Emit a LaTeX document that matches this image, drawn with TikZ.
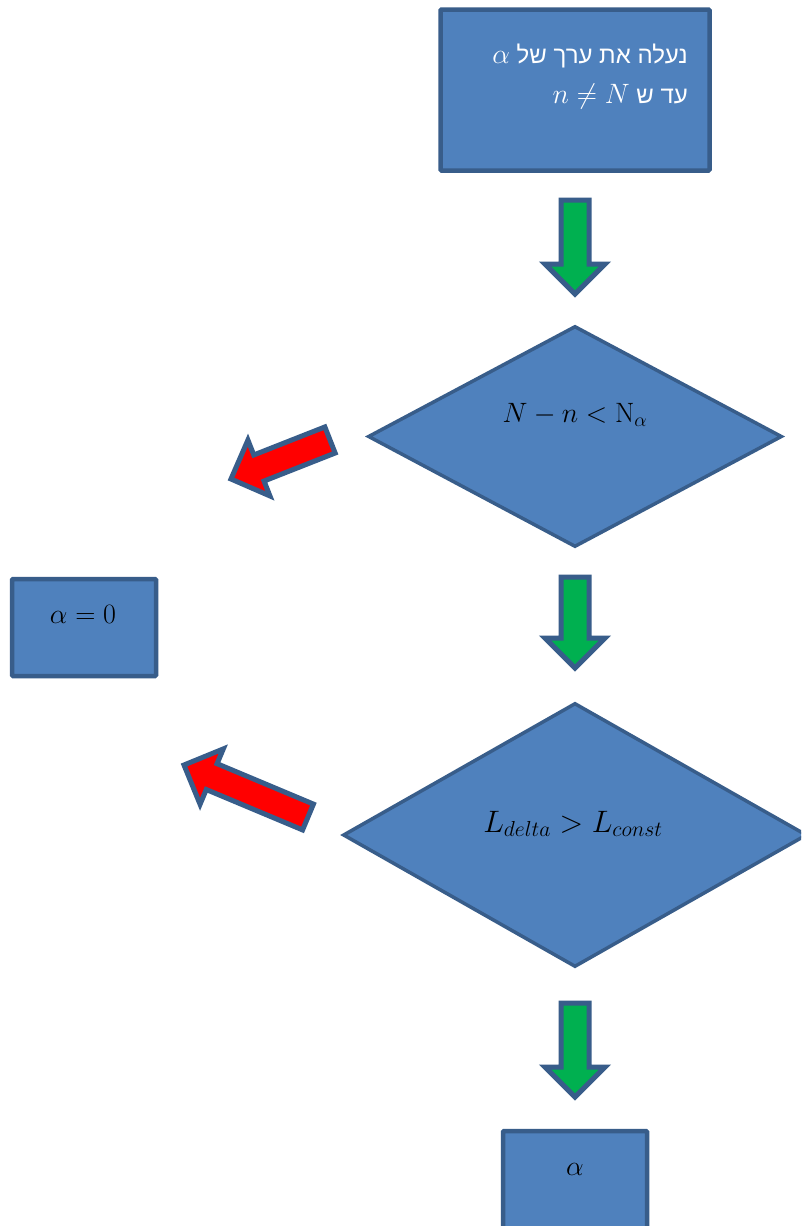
\RequirePackage{fix-cm}
\documentclass[tikz,border=0pt]{standalone}
\usepackage{fontspec}
\newfontfamily\hebfont[Script=Hebrew]{Liberation Sans}
\TeXXeTstate=1
\usetikzlibrary{calc,shapes.geometric}
\definecolor{boxfill}{HTML}{4F81BD}
\definecolor{boxline}{HTML}{385D8A}
\definecolor{okgreen}{HTML}{00B050}
\definecolor{nored}{HTML}{FF0000}
\newcommand\bigmath[1]{{\fontsize{28}{34}\selectfont$#1$}}
\tikzset{
  flowbox/.style={draw=boxline, fill=boxfill, line width=4.5pt, rounded corners=1pt, inner sep=0pt},
  flowdiamond/.style={diamond, draw=boxline, fill=boxfill, line width=3.5pt, inner sep=0pt},
  arrowline/.style={draw=boxline, line width=5pt, line join=miter},
  mathlabel/.style={font=\fontsize{28}{34}\selectfont, text=black, inner sep=0pt, anchor=base},
  heblabel/.style={font=\hebfont\fontsize{24}{28}\selectfont, text=white, inner sep=0pt, anchor=base east},
}
\newcommand\blockarrow[3]{%
  \coordinate (ba-h) at ($(#2)!30pt!(#1)$);
  \draw[arrowline, fill=#3] ($(#1)!14pt!90:(#2)$) -- ($(ba-h)!14pt!90:(#2)$) -- ($(ba-h)!30pt!90:(#2)$) -- (#2)
     -- ($(ba-h)!30pt!-90:(#2)$) -- ($(ba-h)!14pt!-90:(#2)$) -- ($(#1)!14pt!-90:(#2)$) -- cycle;
}
\begin{document}
\begin{tikzpicture}[x=1pt, y=-1pt]
\useasboundingbox (0,0) rectangle (801,1226);
\clip (0,0) rectangle (801,1226);
\fill[white] (0,0) rectangle (801,1226);

% boxes
\node[flowbox, minimum width=269pt, minimum height=161pt] (start) at (575,90) {};
\node[heblabel] (startl1) at (688,63) {\beginR נעלה את ערך של \beginL\bigmath{\alpha}\endL\endR};
\node[heblabel] (startl2) at (688,103) {\beginR עד ש \beginL\bigmath{n\neq N}\endL\endR};

\node[flowdiamond, minimum width=414pt, minimum height=221pt] (cond1) at (575,436.5) {};
\node[mathlabel] (cond1l) at (575,422) {$N-n<\mathrm{N}_\alpha$};

\node[flowdiamond, minimum width=464pt, minimum height=264pt] (cond2) at (575,835) {};
\node[mathlabel, font=\fontsize{31}{37}\selectfont] (cond2l) at (573,832) {$L_{delta}>L_{const}$};

\node[flowbox, minimum width=144pt, minimum height=97pt] (zero) at (84,627.5) {};
\node[mathlabel] (zerol) at (83,623) {$\alpha=0$};

\node[flowbox, minimum width=144pt, minimum height=109pt] (result) at (575,1185.5) {};
\node[mathlabel] (resultl) at (575,1175) {$\alpha$};

% block arrows
\coordinate (g1t) at (575,200); \coordinate (g1p) at (575,294);
\coordinate (g2t) at (575,577); \coordinate (g2p) at (575,668);
\coordinate (g3t) at (575,1003); \coordinate (g3p) at (575,1097);
\coordinate (r1t) at (330,440); \coordinate (r1p) at (231,479);
\coordinate (r2t) at (308,817); \coordinate (r2p) at (184,765);
\blockarrow{g1t}{g1p}{okgreen}
\blockarrow{g2t}{g2p}{okgreen}
\blockarrow{g3t}{g3p}{okgreen}
\blockarrow{r1t}{r1p}{nored}
\blockarrow{r2t}{r2p}{nored}
\end{tikzpicture}
\end{document}
